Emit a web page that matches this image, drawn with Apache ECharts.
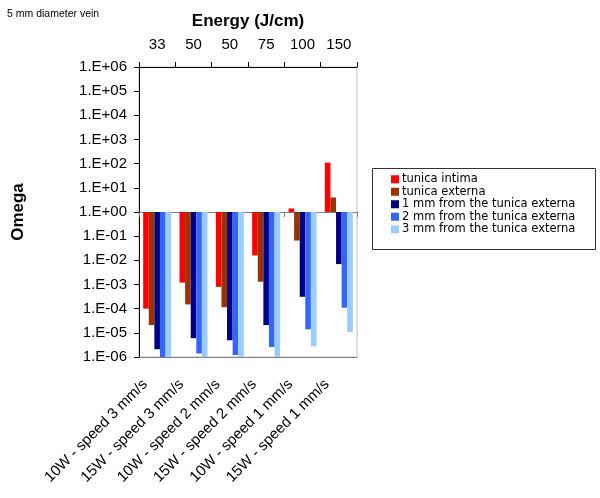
<!DOCTYPE html>
<html><head><meta charset="utf-8">
<script src="https://cdn.jsdelivr.net/npm/echarts@6/dist/echarts.min.js"></script>
<style>html,body{margin:0;padding:0;background:#fff}#c{width:600px;height:498px}</style>
</head><body><div id="c"></div>
<script>
var categories = ['10W - speed 3 mm/s','15W - speed 3 mm/s','10W - speed 2 mm/s','15W - speed 2 mm/s','10W - speed 1 mm/s','15W - speed 1 mm/s'];
var energies = ['33','50','50','75','100','150'];
var seriesNames = ['tunica intima','tunica externa','1 mm from the tunica externa','2 mm from the tunica externa','3 mm from the tunica externa'];
var tunicaIntima  = [1.0e-4, 1.2e-3, 8.0e-4, 1.6e-2, 1.4, 110];
var tunicaExterna = [2.1e-5, 1.5e-4, 1.15e-4, 1.3e-3, 6.6e-2, 4.0];
var mm1 = [2.1e-6, 6.0e-6, 4.9e-6, 2.1e-5, 3.1e-4, 7.0e-3];
var mm2 = [1.0e-6, 1.4e-6, 1.2e-6, 2.6e-6, 1.4e-5, 1.1e-4];
var mm3 = [1.0e-6, 1.0e-6, 1.0e-6, 1.0e-6, 2.8e-6, 1.07e-5];
var colors = ['#FF0000','#993300','#000080','#3366FF','#99CCFF'];

var chart = echarts.init(document.getElementById('c'), null, {renderer:'canvas'});
var allData = [tunicaIntima, tunicaExterna, mm1, mm2, mm3];
var font = 'Liberation Sans, Arial, sans-serif';
function fmt(v){
  var e = Math.round(Math.log10(v));
  var s = e < 0 ? '-' : '+';
  var a = Math.abs(e);
  return '1.E' + s + (a < 10 ? '0' : '') + a;
}
var series = seriesNames.map(function(n, i){
  return {
    name: n, type: 'bar', xAxisIndex: 0, yAxisIndex: 0,
    data: allData[i], barGap: '0%', barCategoryGap: '23%',
    itemStyle: {color: colors[i]}, animation: false
  };
});
chart.setOption({
  animation: false,
  title: {text: '5 mm diameter vein', left: 2, top: 4,
    textStyle: {fontSize: 10.5, fontWeight: 'normal', fontFamily: font, color: '#000'}},
  grid: {left: 139, right: 243, top: 67, bottom: 141, show: true, borderColor: '#c0c0c0', borderWidth: 1},
  legend: {
    orient: 'vertical', left: 386, top: 168, itemWidth: 8, itemHeight: 8, itemGap: 0,
    icon: 'rect', data: seriesNames,
    textStyle: {fontSize: 11.5, fontFamily: 'DejaVu Sans, Verdana, sans-serif', color: '#000', padding: [0,0,0,-2], lineHeight: 12.5, height: 12.5}
  },
  graphic: [{type: 'rect', shape: {x: 372.5, y: 168.5, width: 223, height: 81},
    style: {fill: 'none', stroke: '#333', lineWidth: 1}}],
  xAxis: [
    {type: 'category', data: categories, position: 'bottom', gridIndex: 0,
     axisLine: {lineStyle: {color: '#808080'}}, axisTick: {show: false},
     axisLabel: {rotate: 45, interval: 0, fontSize: 15, fontFamily: font, color: '#000', margin: 13, padding: [0,17,0,0]}},
    {type: 'category', data: energies, position: 'top', gridIndex: 0,
     name: 'Energy (J/cm)', nameLocation: 'middle', nameGap: 37,
     nameTextStyle: {fontSize: 17, fontWeight: 'bold', fontFamily: font, color: '#000'},
     axisLine: {lineStyle: {color: '#000'}}, axisTick: {show: true, length: 5, lineStyle: {color: '#000'}},
     axisLabel: {interval: 0, fontSize: 15, fontFamily: font, color: '#000', margin: 15}},
    {type: 'category', data: categories, position: 'bottom', gridIndex: 0, offset: -145,
     axisLine: {lineStyle: {color: '#808080'}}, axisTick: {show: true, length: 5, lineStyle: {color: '#808080'}},
     axisLabel: {show: false}}
  ],
  yAxis: [{
    type: 'log', logBase: 10, min: 1e-6, max: 1e6, interval: 1,
    name: 'Omega', nameLocation: 'middle', nameGap: 112,
    nameTextStyle: {fontSize: 17, fontWeight: 'bold', fontFamily: font, color: '#000'},
    axisLine: {show: true, lineStyle: {color: '#000'}},
    axisTick: {show: true, length: 5, lineStyle: {color: '#000'}},
    splitLine: {show: false},
    axisLabel: {formatter: fmt, fontSize: 15, fontFamily: font, color: '#000', margin: 12}
  }],
  series: series
});
</script></body></html>
